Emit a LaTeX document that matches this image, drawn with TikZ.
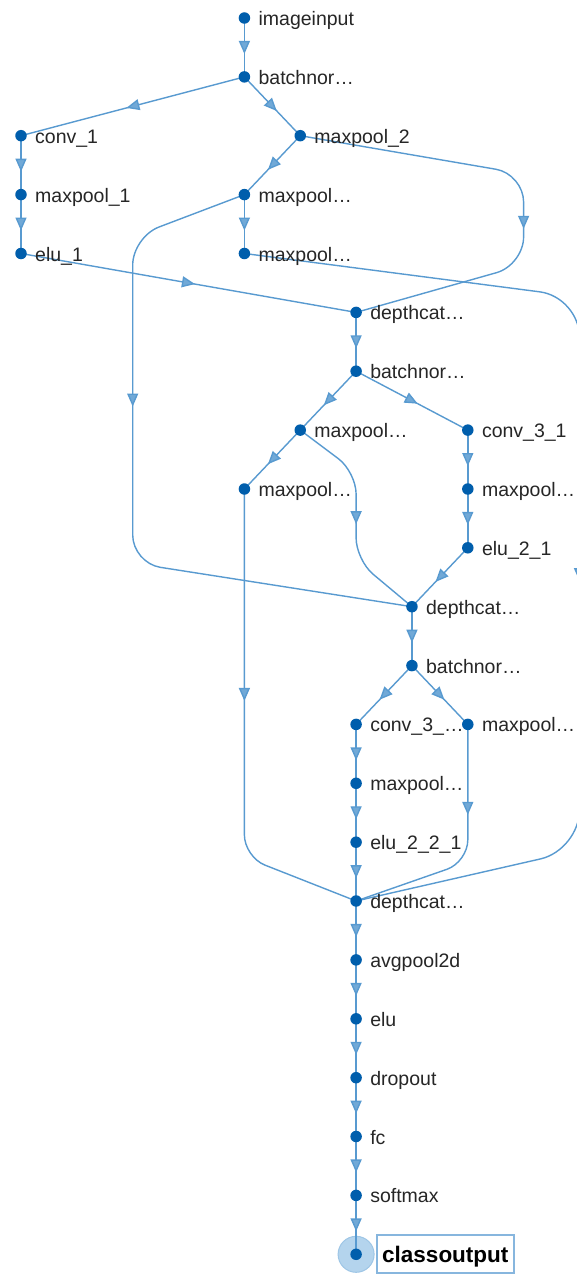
\documentclass[tikz,border=0pt]{standalone}
\usepackage{fontspec}
\setmainfont{Liberation Sans}
\usetikzlibrary{arrows.meta,decorations.markings}
\definecolor{edgecol}{RGB}{88,154,208}
\definecolor{dotcol}{RGB}{0,94,172}
\definecolor{txtcol}{RGB}{38,38,38}
\definecolor{halo}{RGB}{180,212,237}
\definecolor{halobd}{RGB}{158,198,230}
\definecolor{boxcol}{RGB}{135,182,222}
\pgfdeclarelayer{bg}
\pgfdeclarelayer{back}
\pgfdeclarelayer{edges}
\pgfsetlayers{bg,back,edges,main}
\tikzset{
  conn/.style={draw=edgecol, line width=1.4pt, postaction={decorate},
    decoration={markings, mark=at position #1 with {\arrow[xshift=6.5pt]{Triangle[width=11pt,length=13pt,fill=edgecol!85]}}}},
  conn/.default=0.5,
  dot/.style={circle, fill=dotcol, inner sep=0pt, minimum size=11.5pt},
  lab/.style={anchor=base west, inner sep=0pt, text=txtcol, font=\fontsize{19.5}{22}\selectfont},
  outlab/.style={anchor=base west, inner sep=0pt, text=black, font=\fontsize{22.5}{26}\selectfont\bfseries},
}
\newcommand\layer[4]{\node[dot] (#1) at (#2,#3) {};
  \node[lab] (#1-l) at ([xshift=14pt,yshift=-7.5pt]#1.center) {#4};}
\begin{document}
\begin{tikzpicture}[x=1pt,y=-1pt]
\useasboundingbox (0,0) rectangle (576,1276);
\begin{pgfonlayer}{bg}
\fill[white] (0,0) rectangle (576,1276);
\end{pgfonlayer}
% nodes
\layer{n0}{244.4}{18}{imageinput}
\layer{n1}{244.4}{76.9}{batchnor…}
\layer{n2}{21}{135.7}{conv\_1}
\layer{n3}{300.25}{135.7}{maxpool\_2}
\layer{n4}{21}{194.6}{maxpool\_1}
\layer{n5}{244.4}{194.6}{maxpool…}
\layer{n6}{21}{253.5}{elu\_1}
\layer{n7}{244.4}{253.5}{maxpool…}
\layer{n8}{356.1}{312.4}{depthcat…}
\layer{n9}{356.1}{371.2}{batchnor…}
\layer{n10}{300.25}{430.1}{maxpool…}
\layer{n11}{467.8}{430.1}{conv\_3\_1}
\layer{n12}{244.4}{489}{maxpool…}
\layer{n13}{467.8}{489}{maxpool…}
\layer{n14}{467.8}{547.8}{elu\_2\_1}
\layer{n15}{411.95}{606.7}{depthcat…}
\layer{n16}{411.95}{665.6}{batchnor…}
\layer{n17}{356.1}{724.4}{conv\_3\_…}
\layer{n18}{467.8}{724.4}{maxpool…}
\layer{n19}{356.1}{783.3}{maxpool…}
\layer{n20}{356.1}{842.2}{elu\_2\_2\_1}
\layer{n21}{356.1}{901}{depthcat…}
\layer{n22}{356.1}{959.9}{avgpool2d}
\layer{n23}{356.1}{1018.8}{elu}
\layer{n24}{356.1}{1077.7}{dropout}
\layer{n25}{356.1}{1136.5}{fc}
\layer{n26}{356.1}{1195.4}{softmax}
\node[dot] (n27) at (356.1,1254.3) {};
\node[outlab] (n27-l) at (382,1262) {classoutput};
\node[draw=boxcol, line width=1.5pt, inner sep=0pt, minimum width=137pt, minimum height=38pt] (n27-box) at (445.5,1254) {};
\begin{pgfonlayer}{back}
\fill[halo, draw=halobd, line width=1pt] (n27.center) circle (18);
\end{pgfonlayer}
\begin{pgfonlayer}{edges}
\draw[conn] (n0.center) -- (n1.center);
\draw[conn] (n1.center) -- (n2.center);
\draw[conn] (n1.center) -- (n3.center);
\draw[conn] (n2.center) -- (n4.center);
\draw[conn] (n4.center) -- (n6.center);
\draw[conn] (n3.center) -- (n5.center);
\draw[conn] (n5.center) -- (n7.center);
\draw[conn] (n6.center) -- (n8.center);
\draw[conn=0.56, rounded corners=28pt] (n3.center) -- (523.6,174) -- (523.6,265) -- (n8.center);
\draw[conn=0.387, rounded corners=28pt] (n5.center) -- (132.7,237) -- (132.7,563) -- (n15.center);
\draw[conn=0.55, rounded corners=40pt] (n7.center) -- (579.5,297) -- (579.5,850) -- (n21.center);
\draw[conn] (n8.center) -- (n9.center);
\draw[conn] (n9.center) -- (n10.center);
\draw[conn] (n9.center) -- (n11.center);
\draw[conn] (n10.center) -- (n12.center);
\draw[conn=0.5, rounded corners=22pt] (n10.center) -- (356.1,472) -- (356.1,560) -- (n15.center);
\draw[conn] (n11.center) -- (n13.center);
\draw[conn] (n13.center) -- (n14.center);
\draw[conn] (n14.center) -- (n15.center);
\draw[conn=0.426, rounded corners=22pt] (n12.center) -- (244.4,857) -- (n21.center);
\draw[conn] (n15.center) -- (n16.center);
\draw[conn] (n16.center) -- (n17.center);
\draw[conn] (n16.center) -- (n18.center);
\draw[conn] (n17.center) -- (n19.center);
\draw[conn] (n19.center) -- (n20.center);
\draw[conn] (n20.center) -- (n21.center);
\draw[conn=0.336, rounded corners=22pt] (n18.center) -- (467.8,862) -- (n21.center);
\draw[conn] (n21.center) -- (n22.center);
\draw[conn] (n22.center) -- (n23.center);
\draw[conn] (n23.center) -- (n24.center);
\draw[conn] (n24.center) -- (n25.center);
\draw[conn] (n25.center) -- (n26.center);
\draw[conn] (n26.center) -- (n27.center);
\end{pgfonlayer}
\end{tikzpicture}
\end{document}
